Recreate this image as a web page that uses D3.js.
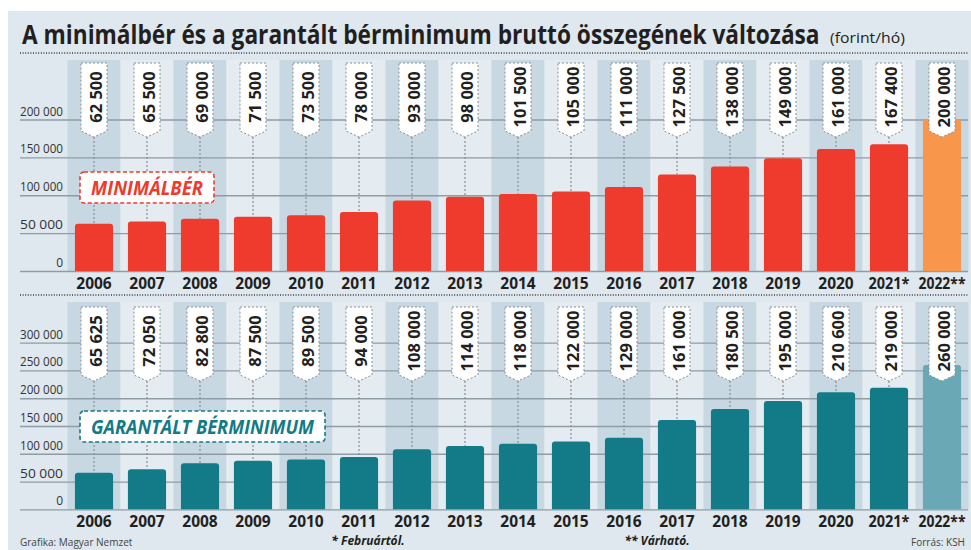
<!DOCTYPE html>
<html>
<head>
<meta charset="utf-8">
<script src="https://cdn.jsdelivr.net/npm/d3@7"></script>
<style>
  body { margin: 0; background: #fff; }
  svg { display: block; font-family: "Open Sans", sans-serif; }
</style>
</head>
<body>
<svg id="chart" width="971" height="550"></svg>
<script>
const years = ['2006', '2007', '2008', '2009', '2010', '2011', '2012', '2013', '2014',
  '2015', '2016', '2017', '2018', '2019', '2020', '2021*', '2022**'];
const minimalber = [62500, 65500, 69000, 71500, 73500, 78000, 93000, 98000, 101500,
  105000, 111000, 127500, 138000, 149000, 161000, 167400, 200000];
const garantalt = [65625, 72050, 82800, 87500, 89500, 94000, 108000, 114000, 118000,
  122000, 129000, 161000, 180500, 195000, 210600, 219000, 260000];
const topTicks = [0, 50000, 100000, 150000, 200000];
const bottomTicks = [0, 50000, 100000, 150000, 200000, 250000, 300000];

const svg = d3.select('#chart');
const fmt = v => d3.format(',')(v).replace(/,/g, ' ');

// squeeze a text horizontally to a given width (condensed look)
function squeeze(sel, x, y, w) {
  const natural = sel.node().getComputedTextLength();
  sel.attr('transform', `translate(${x},${y}) scale(${w / natural},1)`);
}

// panel background
svg.append('rect').attr('x', 8).attr('y', 11).attr('width', 963).attr('height', 539)
  .attr('fill', '#dee8ee');

// title
const title = svg.append('text')
  .attr('font-size', 26).attr('font-weight', 700).attr('fill', '#231f20')
  .text('A minimálbér és a garantált bérminimum bruttó összegének változása');
squeeze(title, 22, 44, 798);
const unit = svg.append('text')
  .attr('font-size', 14).attr('fill', '#231f20')
  .text('(forint/hó)');
squeeze(unit, 830, 43, 75);

const x = d3.scaleBand().domain(years).range([67.5, 968.5]).padding(0);
const barW = x.bandwidth() * 0.72;

function panel(cfg) {
  const g = svg.append('g');
  const y = d3.scaleLinear().domain(cfg.domain).range(cfg.range);
  const base = y(0);

  // dotted rule above the panel
  g.append('line').attr('x1', 20).attr('x2', 968).attr('y1', cfg.ruleY).attr('y2', cfg.ruleY)
    .attr('stroke', '#3a3a3a').attr('stroke-width', 1.3).attr('stroke-dasharray', '1,1.6');

  // alternating column stripes
  g.selectAll('.stripe').data(years).join('rect')
    .attr('x', d => x(d)).attr('width', x.bandwidth())
    .attr('y', cfg.stripeTop).attr('height', base - cfg.stripeTop)
    .attr('fill', (d, i) => i % 2 === 0 ? '#c8d8e2' : '#e4ecf1');

  // gridlines + tick labels
  const ax = g.append('g').attr('transform', 'translate(968,0)');
  ax.call(d3.axisRight(y).tickValues(cfg.ticks).tickSize(-948).tickFormat(''));
  ax.select('.domain').remove();
  ax.selectAll('.tick line').attr('stroke', '#8e9ca6').attr('stroke-width', 1.3);

  g.selectAll('.tl').data(cfg.ticks).join('text')
    .attr('x', 63).attr('y', d => y(d) - 4)
    .attr('text-anchor', 'end').attr('font-size', 12).attr('fill', '#333')
    .attr('textLength', d => d === 0 ? null : 43).attr('lengthAdjust', 'spacingAndGlyphs')
    .text(d => fmt(d));

  // bars
  g.selectAll('.bar').data(cfg.values).join('path')
    .attr('fill', (d, i) => i === years.length - 1 ? cfg.lastColor : cfg.color)
    .attr('d', (d, i) => {
      const x0 = x(years[i]) + (x.bandwidth() - barW) / 2, x1 = x0 + barW;
      const t = y(d), r = 3;
      return `M${x0},${base}V${t + r}Q${x0},${t} ${x0 + r},${t}H${x1 - r}Q${x1},${t} ${x1},${t + r}V${base}Z`;
    });

  // connectors and callouts
  const cw = 13, tip = 6;
  years.forEach((yr, i) => {
    const cx = x(yr) + x.bandwidth() / 2;
    const v = cfg.values[i];
    const pointY = cfg.calloutBottom + tip;
    if (y(v) > pointY) {
      g.append('line').attr('x1', cx).attr('x2', cx).attr('y1', pointY).attr('y2', y(v))
        .attr('stroke', '#8a8f94').attr('stroke-width', 1.2).attr('stroke-dasharray', '2,2');
    }
    g.append('path')
      .attr('d', `M${cx - cw},${cfg.calloutTop}H${cx + cw}V${cfg.calloutBottom}L${cx},${pointY}L${cx - cw},${cfg.calloutBottom}Z`)
      .attr('fill', '#fff').attr('stroke', '#8a8f94').attr('stroke-width', 1)
      .attr('stroke-dasharray', '2,2');
    const mid = (cfg.calloutTop + cfg.calloutBottom) / 2;
    g.append('text')
      .attr('transform', `translate(${cx + 1},${mid}) rotate(-90)`)
      .attr('text-anchor', 'middle').attr('dominant-baseline', 'central')
      .attr('font-size', 16.5).attr('font-weight', 700).attr('fill', '#231f20')
      .text(fmt(v));
  });

  // year labels
  const yrLen = { '2021*': 41, '2022**': 47 };
  g.selectAll('.yr').data(years).join('text')
    .attr('x', d => x(d) + x.bandwidth() / 2)
    .attr('y', base + 18)
    .attr('text-anchor', 'middle').attr('font-size', 15.5).attr('font-weight', 700)
    .attr('fill', '#231f20')
    .attr('textLength', d => yrLen[d] || null).attr('lengthAdjust', 'spacingAndGlyphs')
    .text(d => d);

  // series label
  g.append('rect').attr('x', 80).attr('y', cfg.legendY).attr('width', cfg.legendW).attr('height', 31)
    .attr('rx', 4).attr('fill', '#fff').attr('stroke', cfg.color).attr('stroke-width', 1.6)
    .attr('stroke-dasharray', '4,2.5');
  g.append('text').attr('x', 80 + cfg.legendW / 2).attr('y', cfg.legendY + 22.5)
    .attr('text-anchor', 'middle').attr('font-size', 19).attr('font-weight', 700)
    .attr('font-style', 'italic').attr('fill', cfg.color)
    .attr('textLength', cfg.legendW - 22).attr('lengthAdjust', 'spacingAndGlyphs')
    .text(cfg.label);
}

panel({
  values: minimalber, domain: [0, 200000], range: [271, 119.5], ticks: topTicks,
  ruleY: 53, stripeTop: 60, calloutTop: 63, calloutBottom: 131,
  color: '#ee3b2e', lastColor: '#f8974c',
  label: 'MINIMÁLBÉR', legendY: 172, legendW: 134
});

panel({
  values: garantalt, domain: [0, 300000], range: [509.3, 342.7], ticks: bottomTicks,
  ruleY: 295, stripeTop: 302, calloutTop: 307, calloutBottom: 375,
  color: '#137a88', lastColor: '#6aa8b6',
  label: 'GARANTÁLT BÉRMINIMUM', legendY: 411, legendW: 245
});

// footer
svg.append('text').attr('x', 20).attr('y', 546).attr('font-size', 10).attr('fill', '#444')
  .text('Grafika: Magyar Nemzet');
svg.append('text').attr('x', 965).attr('y', 546).attr('font-size', 10).attr('fill', '#444')
  .attr('text-anchor', 'end').text('Forrás: KSH');
svg.append('text').attr('x', 368).attr('y', 545).attr('font-size', 12).attr('font-weight', 700)
  .attr('font-style', 'italic').attr('fill', '#231f20').attr('text-anchor', 'middle')
  .text('* Februártól.');
svg.append('text').attr('x', 657).attr('y', 545).attr('font-size', 12).attr('font-weight', 700)
  .attr('font-style', 'italic').attr('fill', '#231f20').attr('text-anchor', 'middle')
  .text('** Várható.');
</script>
</body>
</html>
